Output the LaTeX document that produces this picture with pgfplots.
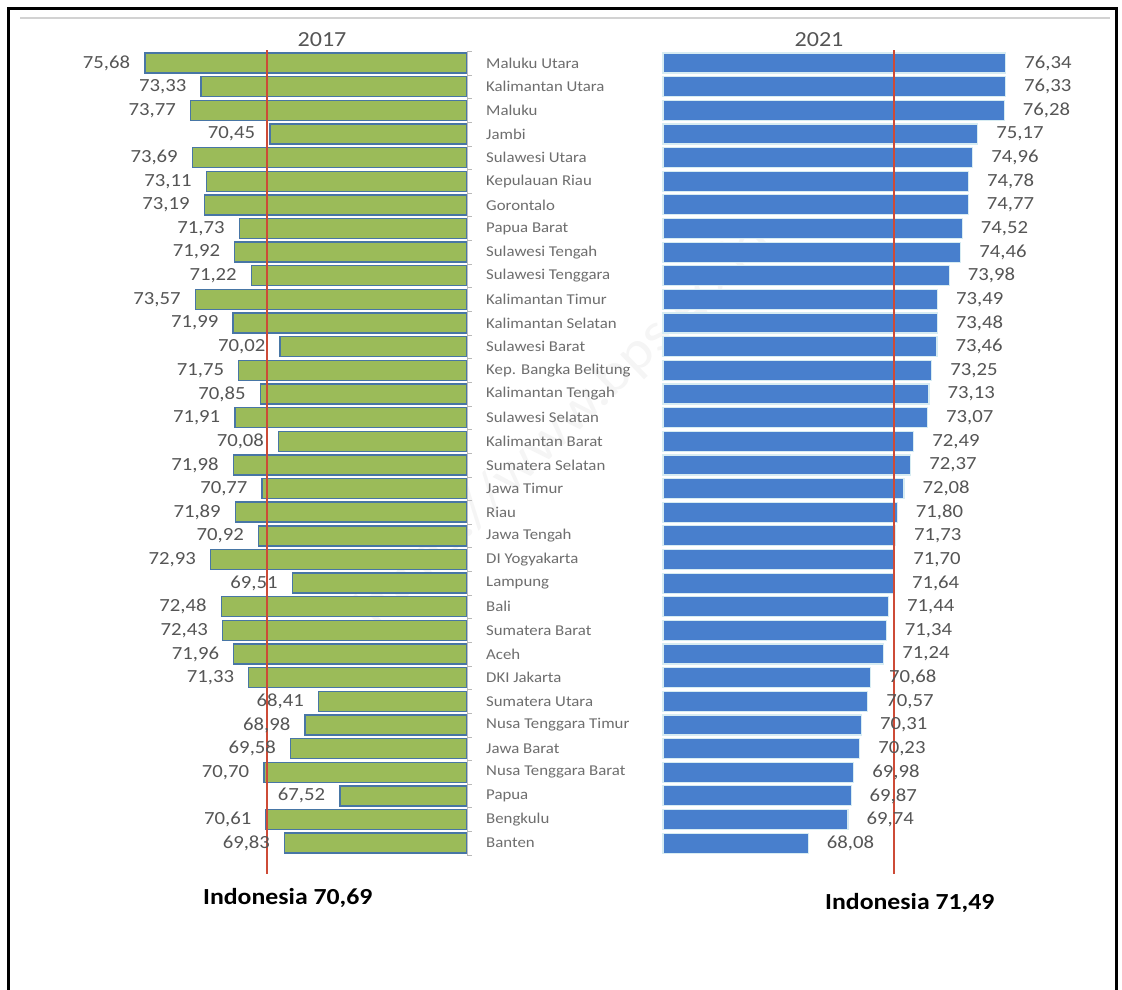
\documentclass[border=0pt]{standalone}
\usepackage{pgfplots}
\pgfplotsset{compat=1.18}
\usepackage{pgfplotstable}
\usepackage{fontspec}
\setmainfont[FakeStretch=1.12]{Carlito}
\definecolor{grn}{RGB}{155,187,89}
\definecolor{grnb}{RGB}{72,118,165}
\definecolor{blu}{RGB}{72,127,205}
\definecolor{blub}{RGB}{215,236,242}
\definecolor{refred}{RGB}{205,75,55}
\definecolor{vallab}{RGB}{85,85,85}
\definecolor{provlab}{RGB}{110,110,110}

\pgfplotstableread[col sep=semicolon,row sep=\\]{
idx;name;a;b\\
0;Maluku Utara;75.68;76.34\\
1;Kalimantan Utara;73.33;76.33\\
2;Maluku;73.77;76.28\\
3;Jambi;70.45;75.17\\
4;Sulawesi Utara;73.69;74.96\\
5;Kepulauan Riau;73.11;74.78\\
6;Gorontalo;73.19;74.77\\
7;Papua Barat;71.73;74.52\\
8;Sulawesi Tengah;71.92;74.46\\
9;Sulawesi Tenggara;71.22;73.98\\
10;Kalimantan Timur;73.57;73.49\\
11;Kalimantan Selatan;71.99;73.48\\
12;Sulawesi Barat;70.02;73.46\\
13;Kep. Bangka Belitung;71.75;73.25\\
14;Kalimantan Tengah;70.85;73.13\\
15;Sulawesi Selatan;71.91;73.07\\
16;Kalimantan Barat;70.08;72.49\\
17;Sumatera Selatan;71.98;72.37\\
18;Jawa Timur;70.77;72.08\\
19;Riau;71.89;71.80\\
20;Jawa Tengah;70.92;71.73\\
21;DI Yogyakarta;72.93;71.70\\
22;Lampung;69.51;71.64\\
23;Bali;72.48;71.44\\
24;Sumatera Barat;72.43;71.34\\
25;Aceh;71.96;71.24\\
26;DKI Jakarta;71.33;70.68\\
27;Sumatera Utara;68.41;70.57\\
28;Nusa Tenggara Timur;68.98;70.31\\
29;Jawa Barat;69.58;70.23\\
30;Nusa Tenggara Barat;70.70;69.98\\
31;Papua;67.52;69.87\\
32;Bengkulu;70.61;69.74\\
33;Banten;69.83;68.08\\
}\data

\begin{document}
\begin{tikzpicture}[x=1pt,y=1pt]
\useasboundingbox[fill=white] (0pt,0pt) rectangle (1122pt,990pt);
% frame
\draw[black,line width=2.5pt] (8.5pt,-10pt) -- (8.5pt,981.5pt) -- (1116.5pt,981.5pt) -- (1116.5pt,-10pt);
\draw[gray!35,line width=1.5pt] (20pt,972pt) -- (1110pt,972pt);
% watermark
\node[rotate=44,text=gray,opacity=0.08,font=\fontsize{54}{60}\selectfont] at (565pt,565pt) {https://www.bps.go.id};

% ---------- 2017 ----------
\begin{axis}[
  at={(467pt,938.8pt)}, anchor=north east,
  scale only axis, width=353.72pt, height=803.76pt,
  x dir=reverse, y dir=reverse,
  x coord trafo/.code={\pgfmathparse{#1-62.2}},
  x coord inv trafo/.code={\pgfmathparse{#1+62.2}},
  xmin=62.2, xmax=77.0, ymin=-0.5, ymax=33.5,
  hide axis, clip=false,
]
\addplot[xbar, bar width=20pt, fill=grn, draw=grnb, line width=1.4pt,
  point meta=\thisrow{a},
  nodes near coords={\pgfmathprintnumber[fixed,fixed zerofill,precision=2,use comma,assume math mode=true]{\pgfplotspointmeta}},
  every node near coord/.style={anchor=east, inner sep=0pt, xshift=-14pt, text=vallab, font=\fontsize{18.5}{20}\selectfont},
] table[x=a,y=idx]{\data};
\addplot[draw=none, mark=none, point meta=explicit symbolic,
  nodes near coords,
  every node near coord/.style={anchor=west, inner sep=0pt, xshift=19pt, text=provlab, font=\fontsize{15}{16}\selectfont},
] table[x expr=62.2, y=idx, meta=name]{\data};
\draw[gray!50] (axis cs:62.2,-0.5) -- (axis cs:62.2,33.5);
\pgfplotsinvokeforeach{0,...,34}{\draw[gray!55] (axis cs:62.2,#1-0.5) -- ++(5pt,0pt);}
\addplot[refred, line width=1.8pt] coordinates {(70.56,-0.55) (70.56,34.3)};
\end{axis}
\node[text=vallab,font=\fontsize{21.5}{24}\selectfont,anchor=base] at (322pt,943pt) {2017};
\node[font=\bfseries\fontsize{23}{26}\selectfont,anchor=base west,inner sep=0pt] at (203pt,85pt) {Indonesia 70,69};

% ---------- 2021 ----------
\begin{axis}[
  at={(663pt,938.8pt)}, anchor=north west,
  scale only axis, width=358.5pt, height=803.76pt,
  y dir=reverse,
  x coord trafo/.code={\pgfmathparse{#1-62}},
  x coord inv trafo/.code={\pgfmathparse{#1+62}},
  xmin=62, xmax=77, ymin=-0.5, ymax=33.5,
  hide axis, clip=false,
]
\addplot[xbar, bar width=20pt, fill=blu, draw=blub, line width=1.2pt,
  point meta=\thisrow{b},
  nodes near coords={\pgfmathprintnumber[fixed,fixed zerofill,precision=2,use comma,assume math mode=true]{\pgfplotspointmeta}},
  every node near coord/.style={anchor=west, inner sep=0pt, xshift=18pt, text=vallab, font=\fontsize{18.5}{20}\selectfont},
] table[x=b,y=idx]{\data};
\addplot[refred, line width=1.8pt] coordinates {(71.66,-0.55) (71.66,34.3)};
\end{axis}
\node[text=vallab,font=\fontsize{21.5}{24}\selectfont,anchor=base] at (819pt,943pt) {2021};
\node[font=\bfseries\fontsize{23}{26}\selectfont,anchor=base west,inner sep=0pt] at (825pt,80pt) {Indonesia 71,49};
\end{tikzpicture}
\end{document}
